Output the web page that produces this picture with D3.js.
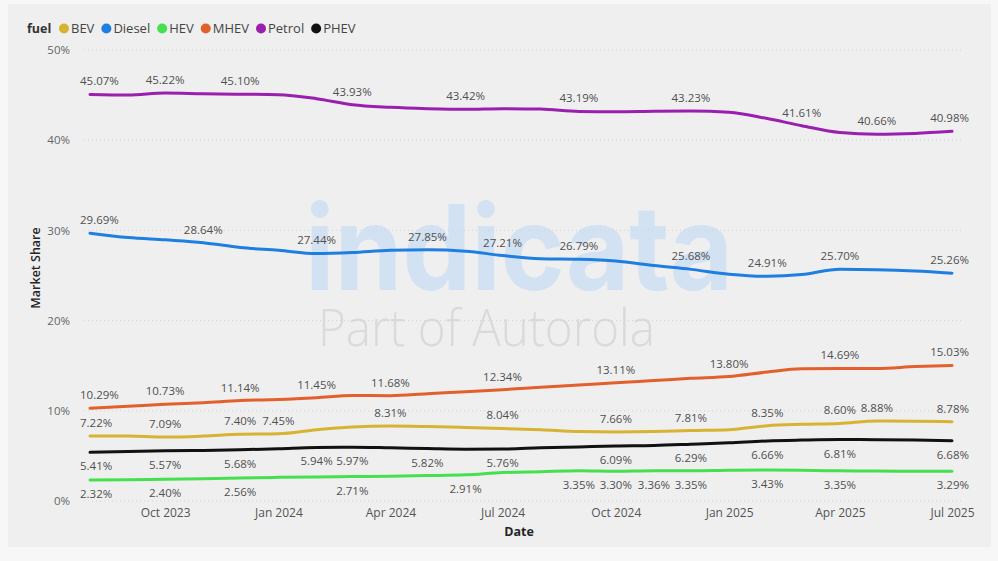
<!DOCTYPE html>
<html lang="en">
<head>
<meta charset="utf-8">
<title>Market share by fuel</title>
<script src="https://d3js.org/d3.v7.min.js"></script>
<style>
  body { margin: 0; background: #f7f7f7; font-family: "Open Sans", "Noto Sans", sans-serif; }
  svg { display: block; }
</style>
</head>
<body>
<script>
// monthly data, Aug 2023 .. Jul 2025
var months = ["2023-08","2023-09","2023-10","2023-11","2023-12","2024-01","2024-02","2024-03",
  "2024-04","2024-05","2024-06","2024-07","2024-08","2024-09","2024-10","2024-11","2024-12",
  "2025-01","2025-02","2025-03","2025-04","2025-05","2025-06","2025-07"];

var petrol = [45.07,45.00,45.22,45.15,45.10,45.05,44.60,43.93,43.65,43.50,43.42,43.50,43.45,43.19,
  43.15,43.20,43.23,43.10,42.40,41.61,40.85,40.66,40.75,40.98];
var diesel = [29.69,29.20,28.95,28.64,28.10,27.80,27.44,27.55,27.80,27.85,27.70,27.21,26.85,26.79,
  26.60,26.10,25.68,25.15,24.91,25.10,25.70,25.65,25.50,25.26];
var mhev = [10.29,10.50,10.73,10.90,11.14,11.25,11.45,11.70,11.68,11.90,12.10,12.34,12.60,12.85,
  13.11,13.35,13.60,13.80,14.30,14.65,14.69,14.70,14.90,15.03];
var bev = [7.22,7.20,7.09,7.20,7.40,7.45,7.90,8.20,8.31,8.25,8.15,8.04,7.90,7.70,
  7.66,7.70,7.81,7.90,8.35,8.50,8.60,8.88,8.85,8.78];
var phev = [5.41,5.50,5.57,5.60,5.68,5.80,5.94,5.97,5.90,5.82,5.75,5.76,5.90,6.00,
  6.09,6.15,6.29,6.45,6.66,6.75,6.81,6.80,6.75,6.68];
var hev = [2.32,2.35,2.40,2.48,2.56,2.62,2.67,2.71,2.75,2.82,2.91,3.15,3.25,3.35,
  3.30,3.36,3.35,3.40,3.43,3.40,3.35,3.32,3.30,3.29];

// which months carry a data label
var petrolLabels = [0,2,4,7,10,13,16,19,21,23];
var dieselLabels = [0,3,6,9,11,13,16,18,20,23];
var mhevLabels = [0,2,4,6,8,11,14,17,20,23];
var bevLabels = [0,2,4,5,8,11,14,16,18,20,21,23];
var phevLabels = [0,2,4,6,7,9,11,14,16,18,20,23];
var hevLabels = [0,2,4,7,10,13,14,15,16,18,20,23];

var legendNames = ["BEV","Diesel","HEV","MHEV","Petrol","PHEV"];
var yTicks = [0,10,20,30,40,50];

var series = [
  {name:"Petrol", values:petrol, labels:petrolLabels, color:"#9b1fae", below:false},
  {name:"Diesel", values:diesel, labels:dieselLabels, color:"#1f7fe0", below:false},
  {name:"MHEV", values:mhev, labels:mhevLabels, color:"#e2602c", below:false},
  {name:"BEV", values:bev, labels:bevLabels, color:"#d8b332", below:false},
  {name:"PHEV", values:phev, labels:phevLabels, color:"#111111", below:true},
  {name:"HEV", values:hev, labels:hevLabels, color:"#45e04f", below:true}
];
var colorOf = {};
series.forEach(function(s){ colorOf[s.name] = s.color; });

var w = 998, h = 561;
var parseMonth = d3.timeParse("%Y-%m");
var dates = months.map(parseMonth);

var svg = d3.select("body").append("svg").attr("width", w).attr("height", h);

// panel
svg.append("rect").attr("x", 8).attr("y", 4).attr("width", 983).attr("height", 543)
  .attr("fill", "#efefef");

var x = d3.scaleTime().domain([dates[0], dates[dates.length-1]]).range([90, 952]);
var y = d3.scaleLinear().domain([0, 50]).range([501, 50]);

// watermark
svg.append("text").attr("x", 305).attr("y", 290)
  .attr("font-family", "Inter, 'Open Sans', sans-serif").attr("font-weight", 700)
  .attr("font-size", 118).attr("fill", "#d2e2f2")
  .attr("textLength", 428).attr("lengthAdjust", "spacingAndGlyphs")
  .text("indicata");
svg.append("text").attr("x", 318).attr("y", 346)
  .attr("font-family", "'Open Sans', sans-serif").attr("font-weight", 300)
  .attr("font-size", 52).attr("fill", "#dadada")
  .attr("textLength", 337).attr("lengthAdjust", "spacingAndGlyphs")
  .text("Part of Autorola");

// grid + y axis
var yAxis = d3.axisLeft(y).tickValues(yTicks).tickSize(0).tickPadding(0)
  .tickFormat(function(d){ return d + "%"; });
var gy = svg.append("g").attr("transform", "translate(70,0)").call(yAxis);
gy.select(".domain").remove();
gy.selectAll("text").attr("font-size", 11.5).attr("fill", "#666")
  .attr("font-family", "'Open Sans', sans-serif");

svg.append("g").selectAll("line").data(yTicks).enter().append("line")
  .attr("x1", 84).attr("x2", 962)
  .attr("y1", function(d){ return y(d); }).attr("y2", function(d){ return y(d); })
  .attr("stroke", "#d2d2d2").attr("stroke-width", 1).attr("stroke-dasharray", "1,3");

// x axis
var xAxis = d3.axisBottom(x).ticks(d3.timeMonth.every(3)).tickSize(0).tickPadding(0)
  .tickFormat(d3.timeFormat("%b %Y"));
var gx = svg.append("g").attr("transform", "translate(0,508)").call(xAxis);
gx.select(".domain").remove();
gx.selectAll("text").attr("font-size", 12).attr("fill", "#555")
  .attr("font-family", "'Open Sans', sans-serif");

// axis titles
svg.append("text").attr("x", 519).attr("y", 536).attr("text-anchor", "middle")
  .attr("font-size", 12.5).attr("font-weight", 700).attr("fill", "#252525").text("Date");
svg.append("text").attr("transform", "translate(40,268) rotate(-90)").attr("text-anchor", "middle")
  .attr("font-size", 12.5).attr("font-weight", 600).attr("fill", "#252525").text("Market Share");

// lines
var line = d3.line().curve(d3.curveMonotoneX)
  .x(function(d, i){ return x(dates[i]); })
  .y(function(d){ return y(d); });

series.forEach(function(s){
  svg.append("path").datum(s.values)
    .attr("fill", "none").attr("stroke", s.color).attr("stroke-width", 3)
    .attr("stroke-linecap", "round").attr("stroke-linejoin", "round")
    .attr("d", line);
});

// data labels
series.forEach(function(s){
  svg.append("g").selectAll("text").data(s.labels).enter().append("text")
    .attr("x", function(i){
      if (i === 0) return x(dates[i]) - 10;
      if (i === dates.length - 1) return x(dates[i]) + 17;
      return x(dates[i]);
    })
    .attr("y", function(i){ return y(s.values[i]) + (s.below ? 18 : -9); })
    .attr("text-anchor", function(i){
      if (i === 0) return "start";
      if (i === dates.length - 1) return "end";
      return "middle";
    })
    .attr("font-size", 11.5).attr("fill", "#505050")
    .text(function(i){ return s.values[i].toFixed(2) + "%"; });
});

// legend
var legend = svg.append("g").attr("transform", "translate(27,33)");
legend.append("text").attr("x", 0).attr("y", 0).attr("font-size", 12.5).attr("font-weight", 700)
  .attr("fill", "#333").text("fuel");
var lx = 37;
legendNames.forEach(function(n){
  var item = legend.append("g").attr("transform", "translate(" + lx + ",0)");
  item.append("circle").attr("cx", 0).attr("cy", -4.5).attr("r", 5).attr("fill", colorOf[n]);
  var t = item.append("text").attr("x", 7).attr("y", 0).attr("font-size", 13)
    .attr("fill", "#444").text(n);
  lx += 7 + t.node().getComputedTextLength() + 12;
});
</script>
</body>
</html>
